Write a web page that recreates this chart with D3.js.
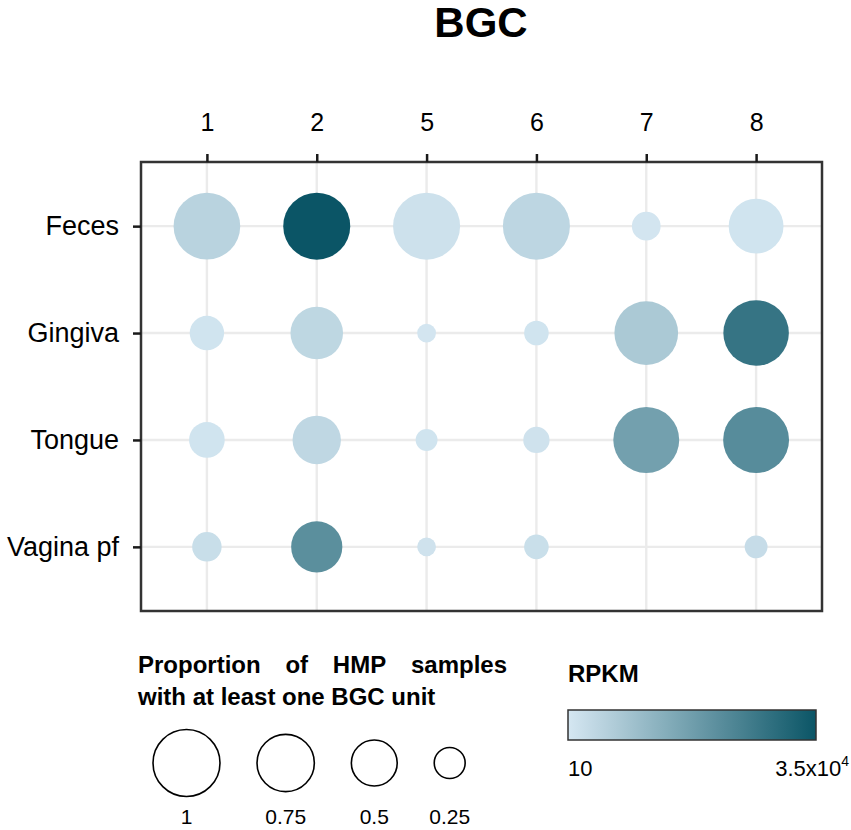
<!DOCTYPE html>
<html>
<head>
<meta charset="utf-8">
<script src="https://cdn.jsdelivr.net/npm/d3@7"></script>
<style>
  body { margin: 0; background: white; }
  text { font-family: "Liberation Sans", Arial, sans-serif; }
</style>
</head>
<body>
<main></main>
<script>
// BGC units (columns) and body sites (rows)
const bgcs = ["1", "2", "5", "6", "7", "8"]
const sites = ["Feces", "Gingiva", "Tongue", "Vagina pf"]

// proportion of HMP samples with at least one BGC unit, one row per site
const propFeces   = [0.99, 1.00, 1.00, 1.00, 0.22, 0.69]
const propGingiva = [0.30, 0.64, 0.11, 0.17, 0.91, 0.96]
const propTongue  = [0.32, 0.55, 0.14, 0.19, 0.97, 0.97]
const propVagina  = [0.23, 0.61, 0.11, 0.17, null, 0.15]

// RPKM, one row per site
const rpkmFeces   = [31, 35000, 14, 26, 11, 12]
const rpkmGingiva = [12, 25, 11, 12, 55, 6150]
const rpkmTongue  = [12, 24, 12, 13, 523, 1630]
const rpkmVagina  = [17, 1380, 13, 16, null, 18]

// legend values
const sizeBreaks = [1, 0.75, 0.5, 0.25]
const rpkmLimits = [10, 35000]

const propRows = [propFeces, propGingiva, propTongue, propVagina]
const rpkmRows = [rpkmFeces, rpkmGingiva, rpkmTongue, rpkmVagina]

let cells = []
sites.forEach(function (s, i) {
  bgcs.forEach(function (b, j) {
    if (propRows[i][j] != null) {
      cells.push({site: s, bgc: b, prop: propRows[i][j], rpkm: rpkmRows[i][j]})
    }
  })
})

//set dimensions
const svgWidth = 851
const svgHeight = 830

const panelLeft = 141
const panelRight = 822
const panelTop = 162
const panelBottom = 611

let svg = d3.select("main")
  .append("svg")
  .attr("width", svgWidth)
  .attr("height", svgHeight)
  .style("background-color", "white")

//title
svg.append("text")
  .attr("x", 481)
  .attr("y", 37)
  .attr("text-anchor", "middle")
  .style("font-size", "42px")
  .style("font-weight", "bold")
  .text("BGC")

//scales
let xScale = d3.scalePoint()
  .domain(bgcs)
  .range([panelLeft, panelRight])
  .padding(0.6)

let yScale = d3.scalePoint()
  .domain(sites)
  .range([panelTop, panelBottom])
  .padding(0.6)

let rScale = d3.scaleSqrt()
  .domain([0.005, 1])
  .range([0, 33.5])
  .clamp(true)

let colorScale = d3.scaleLog()
  .domain(rpkmLimits)
  .range(["#d5e7f2", "#0b5566"])
  .interpolate(d3.interpolateRgb)

//grid lines
svg.append("g")
  .selectAll("line")
  .data(bgcs)
  .enter()
  .append("line")
  .attr("x1", d => xScale(d))
  .attr("x2", d => xScale(d))
  .attr("y1", panelTop)
  .attr("y2", panelBottom)
  .style("stroke", "#ebebeb")
  .style("stroke-width", 2.4)

svg.append("g")
  .selectAll("line")
  .data(sites)
  .enter()
  .append("line")
  .attr("x1", panelLeft)
  .attr("x2", panelRight)
  .attr("y1", d => yScale(d))
  .attr("y2", d => yScale(d))
  .style("stroke", "#ebebeb")
  .style("stroke-width", 2.4)

//dots
svg.append("g")
  .selectAll("circle")
  .data(cells)
  .enter()
  .append("circle")
  .attr("cx", d => xScale(d.bgc))
  .attr("cy", d => yScale(d.site))
  .attr("r", d => rScale(d.prop))
  .style("fill", d => colorScale(d.rpkm))

//panel border
svg.append("rect")
  .attr("x", panelLeft)
  .attr("y", panelTop)
  .attr("width", panelRight - panelLeft)
  .attr("height", panelBottom - panelTop)
  .style("fill", "none")
  .style("stroke", "#333333")
  .style("stroke-width", 2.5)

//top axis
let topAxis = d3.axisTop(xScale).tickSize(8).tickPadding(23)
let xAxis = svg.append("g")
  .attr("transform", `translate(0, ${panelTop})`)
  .call(topAxis)
xAxis.select(".domain").remove()
xAxis.selectAll("line").style("stroke", "#1a1a1a").style("stroke-width", 2.5)
xAxis.selectAll("text")
  .style("font-size", "25px")
  .style("font-family", "Liberation Sans, Arial, sans-serif")
  .attr("fill", "black")

//left axis
let leftAxis = d3.axisLeft(yScale).tickSize(8).tickPadding(14)
let yAxis = svg.append("g")
  .attr("transform", `translate(${panelLeft}, 0)`)
  .call(leftAxis)
yAxis.select(".domain").remove()
yAxis.selectAll("line").style("stroke", "#1a1a1a").style("stroke-width", 2.5)
yAxis.selectAll("text")
  .style("font-size", "27px")
  .style("font-family", "Liberation Sans, Arial, sans-serif")
  .attr("fill", "black")

//size legend title, first line justified between 138 and 507
let line1 = ["Proportion", "of", "HMP", "samples"]
let words = svg.append("g")
  .selectAll("text")
  .data(line1)
  .enter()
  .append("text")
  .attr("y", 673)
  .style("font-size", "24px")
  .style("font-weight", "bold")
  .text(d => d)
let widths = []
words.each(function () { widths.push(this.getComputedTextLength()) })
let gap = (507 - 138 - d3.sum(widths)) / (line1.length - 1)
let pos = 138
words.attr("x", function (d, i) {
  let x = pos
  pos += widths[i] + gap
  return x
})

svg.append("text")
  .attr("x", 138)
  .attr("y", 705)
  .style("font-size", "24px")
  .style("font-weight", "bold")
  .text("with at least one BGC unit")

//size legend circles, laid out left to right with a fixed gap
let legendX = []
let cur = 153
sizeBreaks.forEach(function (b) {
  legendX.push(cur + rScale(b))
  cur += 2 * rScale(b) + 37
})

let sizeLegend = svg.append("g")
sizeLegend.selectAll("circle")
  .data(sizeBreaks)
  .enter()
  .append("circle")
  .attr("cx", (d, i) => legendX[i])
  .attr("cy", 763)
  .attr("r", d => rScale(d))
  .style("fill", "white")
  .style("stroke", "black")
  .style("stroke-width", 1.6)

sizeLegend.selectAll("text")
  .data(sizeBreaks)
  .enter()
  .append("text")
  .attr("x", (d, i) => legendX[i])
  .attr("y", 824)
  .attr("text-anchor", "middle")
  .style("font-size", "21px")
  .text(d => d)

//colour legend
svg.append("text")
  .attr("x", 568)
  .attr("y", 682)
  .style("font-size", "24px")
  .style("font-weight", "bold")
  .text("RPKM")

let defs = svg.append("defs")
let grad = defs.append("linearGradient")
  .attr("id", "rpkmGrad")
  .attr("x1", "0%").attr("x2", "100%")
  .attr("y1", "0%").attr("y2", "0%")
let stops = d3.range(0, 1.0001, 0.1)
let logScale = d3.scaleLinear().domain([0, 1]).range([Math.log10(rpkmLimits[0]), Math.log10(rpkmLimits[1])])
grad.selectAll("stop")
  .data(stops)
  .enter()
  .append("stop")
  .attr("offset", d => (d * 100) + "%")
  .attr("stop-color", d => colorScale(Math.pow(10, logScale(d))))

svg.append("rect")
  .attr("x", 568)
  .attr("y", 710)
  .attr("width", 248)
  .attr("height", 30)
  .style("fill", "url(#rpkmGrad)")
  .style("stroke", "#333333")
  .style("stroke-width", 1.5)

svg.append("text")
  .attr("x", 568)
  .attr("y", 776)
  .style("font-size", "22px")
  .text("10")

let maxLabel = svg.append("text")
  .attr("x", 849)
  .attr("y", 776)
  .attr("text-anchor", "end")
  .style("font-size", "22px")
maxLabel.append("tspan").text("3.5x10")
maxLabel.append("tspan")
  .attr("dy", -10)
  .style("font-size", "14px")
  .text("4")
</script>
</body>
</html>
